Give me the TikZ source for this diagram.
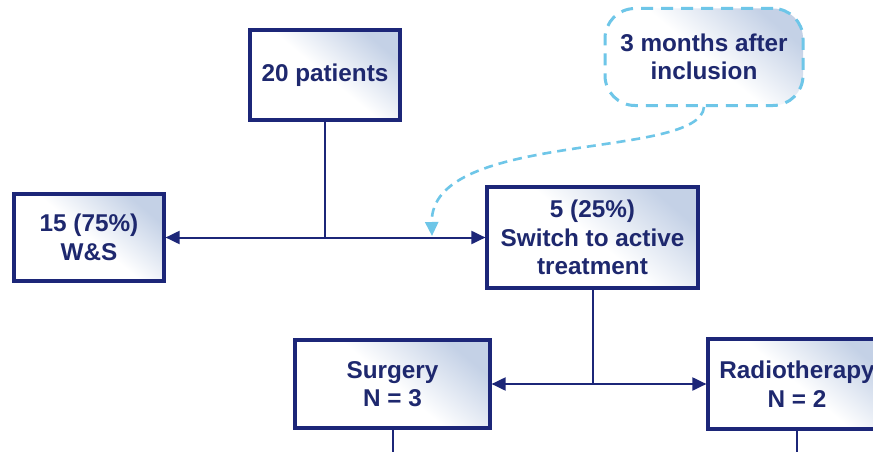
\documentclass[tikz,border=0pt]{standalone}
\usepackage{fontspec}
\setmainfont{Liberation Sans}
\usetikzlibrary{arrows.meta}
\definecolor{navy}{RGB}{28,38,120}
\definecolor{txtnavy}{RGB}{30,40,110}
\definecolor{boxblue}{RGB}{196,209,230}
\definecolor{cyanl}{RGB}{110,198,232}
\tikzset{
  flowbox/.style={draw=navy, line width=3.2pt, shading=axis, top color=boxblue, bottom color=white, middle color=white, shading angle=-40,
    align=center, text=txtnavy, font=\fontsize{24.3}{28.5}\selectfont\bfseries, inner sep=0pt},
  conn/.style={draw=navy, line width=2pt},
  arr/.style={conn, -{Triangle[length=14pt,width=13pt]}},
  callbox/.style={draw=cyanl, line width=3pt, dash pattern=on 12pt off 8pt, rounded corners=30pt,
    shading=axis, top color=boxblue, bottom color=white, middle color=white, shading angle=-40,
    align=center, text=txtnavy, font=\fontsize{24.3}{28.5}\selectfont\bfseries, inner sep=0pt},
  tail/.style={draw=cyanl, line width=2.6pt, dash pattern=on 9pt off 6pt, -{Triangle[length=14pt,width=13pt]}}
}
\begin{document}
\begin{tikzpicture}[x=1pt,y=-1pt]
\useasboundingbox (0,0) rectangle (873,452);
\clip (0,0) rectangle (873,452);
\fill[white] (0,0) rectangle (873,452);
\node[flowbox, minimum width=150pt, minimum height=90pt] (top) at (325,75) {20 patients};
\node[flowbox, minimum width=150pt, minimum height=87pt] (left) at (89,237.5) {15 (75\%)\\W\&S};
\node[flowbox, minimum width=211pt, minimum height=101pt] (center) at (592.5,237.5) {5 (25\%)\\Switch to active\\treatment};
\node[flowbox, minimum width=195pt, minimum height=88pt] (surg) at (392.5,384) {Surgery\\N = 3};
\node[flowbox, minimum width=178pt, minimum height=90pt] (radio) at (797,384) {Radiotherapy\\N = 2};
\node[callbox, minimum width=198pt, minimum height=97pt] (call) at (704,57) {3 months after\\inclusion};
\coordinate (j1) at (top.south |- center.west);
\coordinate (j2) at (center.south |- surg.east);
\coordinate (e1) at (392.5,460);
\coordinate (e2) at (797,460);
\coordinate (tip) at (432,236);
\draw[conn] (top.south) -- (j1);
\draw[arr] (j1) -- (left.east);
\draw[arr] (j1) -- (center.west);
\draw[conn] (center.south) -- (j2);
\draw[arr] (j2) -- (surg.east);
\draw[arr] (j2) -- (radio.west);
\draw[conn] (surg.south) -- (e1);
\draw[conn] (radio.south) -- (e2);
\draw[tail] (call.south) .. controls (700,160) and (430,130) .. (tip);
\end{tikzpicture}
\end{document}
